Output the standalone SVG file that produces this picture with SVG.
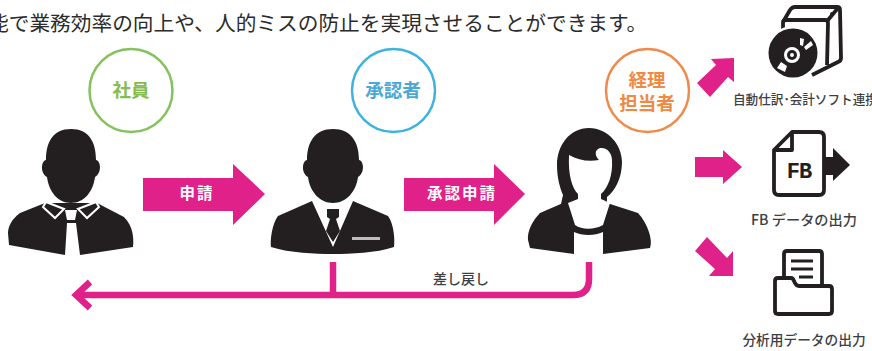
<svg xmlns="http://www.w3.org/2000/svg" width="872" height="351" viewBox="0 0 872 351">
<style>
text{font-family:"Noto Sans CJK JP","Liberation Sans",sans-serif;text-anchor:middle}
.k{fill:#231f20}
.w{fill:#fff}
.p{fill:#e0218a}
.ic{fill:none;stroke:#231f20;stroke-width:3.800;stroke-linejoin:round}
.lab{fill:#3c4046;font-weight:500}
.c{fill:#fff;stroke-width:2.500}
.ct{font-size:18.500px;font-weight:700}
.at{font-size:15.500px;fill:#fff;font-weight:700;letter-spacing:2px}
</style>
<rect width="872" height="351" fill="#fff"/>
<text id="headline" x="-12" y="31" font-size="20.700" style="text-anchor:start;fill:#2b2b2b">能で業務効率の向上や、人的ミスの防止を実現させることができます。</text>
<g id="connectors">
<path class="p" d="M143 178H233V164L265 194L233 225V211H143Z"/>
<path class="p" d="M404 178H494V164L525 194L494 225V211H404Z"/>
<path class="p" d="M695 157H723V150L742 167L723 184V177H695Z"/>
<path class="p" d="M697 83L716 65L711 59L734 58V82L728 77L710 97Z"/>
<path class="p" d="M695 251L707 237L727 258L733 251V276H709L715 269Z"/>
<g fill="none" stroke="#e0218a" stroke-width="6.500">
<path d="M589 262V279Q589 295 573 295H76"/>
<path d="M333 262V295"/>
<path d="M90 282L76 295L90 308"/>
</g>
</g>
<g id="employee">
<circle class="c" cx="131" cy="90.500" r="41.500" stroke="#84c25f"/>
<text class="ct" x="131" y="97" fill="#85bd4f">社員</text>
<path class="k" d="M71 129C53 129 46 142 46 160C41 161 40 173 47 177C49 192 58 203 71 203C84 203 93 192 95 177C102 173 101 161 96 160C96 142 89 129 71 129Z"/>
<path class="k" d="M45 203L20 213C12 219 8 226 8 233L9 245L65 255H80L133 247C134 238 133 226 124 217L97 203Z"/>
<path class="k" d="M46 202L64 209L55 218L43 207ZM96 202L78 209L87 218L99 207Z" stroke="#fff" stroke-width="2"/>
<path class="w" d="M65 210H77L75 220H67ZM67 223H76L80 255H65Z"/>
</g>
<g id="approver">
<circle class="c" cx="393.500" cy="90.500" r="41.500" stroke="#3fb2e0"/>
<text class="ct" x="393" y="97" fill="#4aa8d8">承認者</text>
<path class="k" d="M333 129C315 129 307 142 307 160C302 161 301 173 308 177C310 192 320 203 333 203C346 203 356 192 358 177C365 173 364 161 359 160C359 142 351 129 333 129Z"/>
<path class="k" d="M312 201L278 216C272 224 270 240 271 247C290 253 315 254 333 254C351 254 376 253 394 247C395 240 394 224 388 216L353 201L333 247Z"/>
<path style="fill:#bdbdbd" d="M352 237H380V240H352Z"/>
<path class="k" d="M327 209H339V217L336 219L340 231L333 242L326 231L330 219L327 217Z"/>
</g>
<g id="accountant">
<circle class="c" cx="647.500" cy="90.500" r="41.500" stroke="#ef8a4c"/>
<text class="ct" fill="#ef8a45"><tspan x="647" y="87">経理</tspan><tspan x="647" y="110">担当者</tspan></text>
<path class="k" d="M589 128C570 128 557 145 557 165C557 178 560 188 563 195L561 204L607 204L607 197C615 191 622 178 622 162C622 145 608 128 589 128Z"/>
<path class="k" d="M563 203L540 213C532 221 527 232 528 240L530 248L574 254H603L650 248C653 240 648 224 638 213L607 203Z"/>
<path class="w" d="M569 155C578 160 588 162 599 160C595 156 594 150 600 148C607 147 612 153 612 160C613 175 608 188 601 194V199L610 203L603 225C594 230 582 230 575 225L568 203L578 199V194C572 188 568 175 569 155Z"/>
<path class="w" d="M574 232C582 236 595 236 603 232V255H574Z"/>
</g>
<g id="software-link">
<path class="ic" d="M783 36V23Q783 20 786 20H825Q828 20 828 23L827 65"/>
<path class="ic" d="M783 22L790 10Q792 7 795 7H837Q840 7 840 10L841 58Q841 61 838 62L812 75"/>
<path class="ic" d="M828 20L838 8"/>
<circle class="k" cx="832" cy="14" r="2"/>
<circle class="w" cx="793" cy="53" r="27"/>
<circle class="k" cx="793" cy="53" r="24.500"/>
<circle class="w" cx="792" cy="55" r="8"/>
<circle class="k" cx="792" cy="55" r="5"/>
<circle class="w" cx="792" cy="55" r="2"/>
<path class="w" d="M800 45L800 38L804 39L803 46ZM804 47L811 41L813 45L806 50ZM781 62L777 68L785 72L787 66Z"/>
<text class="lab" x="733" y="103.500" font-size="12.600" style="text-anchor:start">自動仕訳･会計ソフト連携</text>
</g>
<g id="fb-output">
<path class="k" d="M823 157H833V148L850 165L833 181V175H823Z"/>
<path class="ic" d="M792 132H819Q824 132 824 137V190Q824 195 819 195H779Q774 195 774 190V150Z"/>
<path class="ic" d="M774 150H792V132"/>
<text x="799" y="178" font-size="22" font-weight="700" letter-spacing="-1" fill="#231f20" style="font-family:'Liberation Mono',monospace">FB</text>
<text class="lab" x="804" y="225" font-size="14.200">FB データの出力</text>
</g>
<g id="analysis-output">
<path class="ic" d="M784 278V254Q784 251 787 251H819Q822 251 822 254V285"/>
<path class="ic" d="M775 281Q775 278 778 278H791Q793 278 794 281Q796 286 799 286H829Q832 286 832 289V311Q832 314 829 314H778Q775 314 775 311Z"/>
<path d="M791 261H813M791 269H813M799 277H813" stroke="#231f20" stroke-width="3" fill="none"/>
<text class="lab" x="804" y="345" font-size="13.700">分析用データの出力</text>
</g>
<text id="return-label" class="lab" x="461" y="284" font-size="14">差し戻し</text>
<text id="apply" class="at" x="197" y="199">申請</text>
<text id="approval-request" class="at" x="462" y="199">承認申請</text>
</svg>
